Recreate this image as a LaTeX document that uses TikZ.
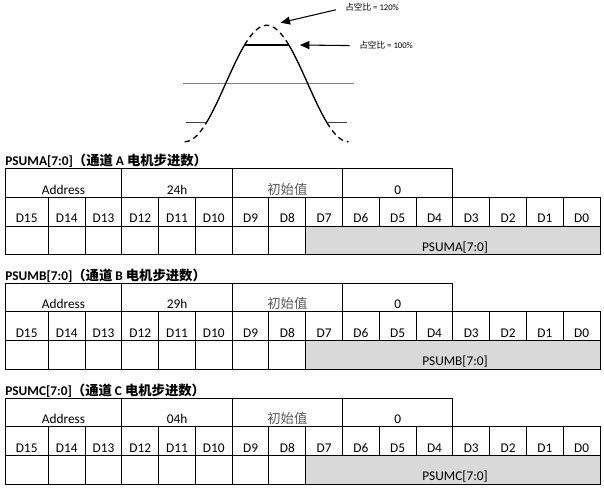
\documentclass[tikz,border=0pt]{standalone}
\usepackage{fontspec}
\setmainfont{Carlito}
\newfontfamily\cjk{Noto Sans CJK SC}
\usetikzlibrary{arrows.meta, positioning}
\definecolor{cellgray}{RGB}{217,217,217}
\definecolor{initgray}{RGB}{89,89,89}

\begin{document}
\begin{tikzpicture}[x=0.75pt, y=-0.75pt, font=\fontsize{10}{12}\selectfont,
    txt/.style={inner sep=0pt, anchor=base},
    cell/.style={line width=0.75pt},
    wavedash/.style={dash pattern=on 4pt off 3pt},
    arr/.style={-{Triangle[length=7pt, width=6pt]}, line width=0.8pt, shorten <=7pt}]
    \useasboundingbox (0,0) rectangle (604,491);

    % Duty cycle waveform
    \draw[gray, line width=0.8pt] (182.7,83.3) -- (354,83.3);
    \foreach \a/\b/\s in {184.7/206.4/wavedash, 206.4/244.6/solid, 244.6/288.8/wavedash,
                          288.8/327/solid, 327/348.7/wavedash} {
        \draw[\s, line width=1pt, domain=\a:\b, samples=30]
            plot (\x, {83.5-58.2*cos(180*(\x-266.7)/82)});
    }
    \draw[line width=0.8pt] (244.6,45) -- (288.8,45);
    \draw[darkgray, line width=0.8pt] (186,122.7) -- (206.4,122.7);
    \draw[darkgray, line width=0.8pt] (327,122.7) -- (347.3,122.7);

    % Duty labels
    \node[txt, anchor=base west, font=\fontsize{6.5}{8}\selectfont] (duty120) at (345,11) {{\cjk 占空比} = 120\%};
    \node[txt, anchor=base west, font=\fontsize{6.5}{8}\selectfont] (duty100) at (359,49) {{\cjk 占空比} = 100\%};
    \coordinate (peak120) at (280.7,22.7);
    \coordinate (top100) at (300,45);
    \draw[arr] (duty120.west) -- (peak120);
    \draw[arr] (duty100.west) -- (top100);

    % Register tables
    \foreach \chn/\y/\addr in {A/169/24h, B/283.3/29h, C/398.3/04h} {
        \node[txt, anchor=base west, font=\bfseries] (title\chn) at (5,\y-3)
            {PSUM\chn[7:0]{\cjk （通道} \chn{} {\cjk 电机步进数）}};
        \fill[cellgray] (305.8,\y+57.4) rectangle (600,\y+86);
        % Address / value / reset row
        \foreach \xa/\xb/\t/\c [count=\n] in {5/121.9/Address/black, 121.9/232.2/\addr/black,
                                              232.2/342.6/{\cjk 初始值}/initgray, 342.6/452.9/0/black} {
            \draw[cell] (\xa,\y) rectangle (\xb,\y+28.7);
            \node[txt, text=\c] (top\chn\n) at ({(\xa+\xb)/2},\y+25.3) {\t};
        }
        % Bit cells
        \foreach \k in {0,...,15} {
            \pgfmathsetmacro{\xa}{\k==0 ? 5 : 48.3+(\k-1)*36.78}
            \pgfmathsetmacro{\xb}{48.3+\k*36.78}
            \pgfmathtruncatemacro{\b}{15-\k}
            \draw[cell] (\xa,\y+28.7) rectangle (\xb,\y+57.4);
            \node[txt] (d\chn\b) at ({(\xa+\xb)/2},\y+54) {D\b};
            \ifnum\k<8 \draw[cell] (\xa,\y+57.4) rectangle (\xb,\y+86); \fi
        }
        \draw[cell] (305.8,\y+57.4) rectangle (600,\y+86);
        \node[txt] (field\chn) at (455,\y+82.7) {PSUM\chn[7:0]};
    }
\end{tikzpicture}
\end{document}
